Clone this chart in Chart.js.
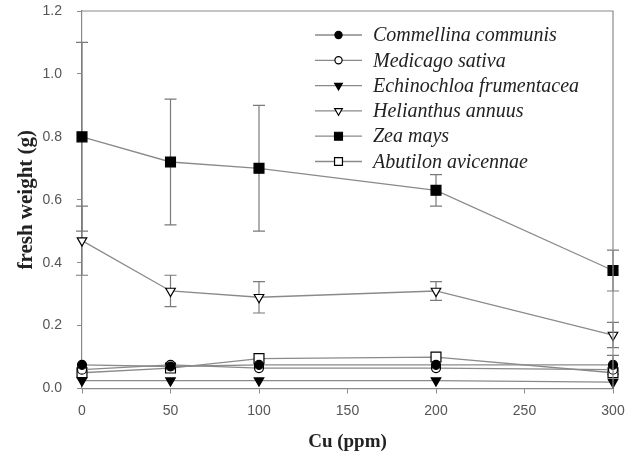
<!DOCTYPE html>
<html>
<head>
<meta charset="utf-8">
<script src="https://cdn.jsdelivr.net/npm/chart.js@4.4.0/dist/chart.umd.min.js"></script>
<style>
  html, body { margin: 0; padding: 0; background: #fff; }
  #wrap { width: 635px; height: 461px; }
</style>
</head>
<body>
<div id="wrap"><canvas id="mychart" width="635" height="461"></canvas></div>
<script>
// Cu dose (ppm) on the x axis
var cu = [0, 50, 100, 200, 300]

// fresh weight (g) per species
var commellina  = [0.075, 0.07, 0.075, 0.075, 0.075]
var medicago    = [0.06, 0.075, 0.065, 0.065, 0.06]
var echinochloa = [0.025, 0.025, 0.025, 0.025, 0.02]
var helianthus  = [0.47, 0.31, 0.29, 0.31, 0.17]
var zea         = [0.80, 0.72, 0.70, 0.63, 0.375]
var abutilon    = [0.05, 0.065, 0.095, 0.10, 0.05]

// error bar half widths (null = none drawn)
var commellinaErr = [null, null, null, null, 0.03]
var helianthusErr = [0.11, 0.05, 0.05, 0.03, 0.04]
var zeaErr        = [0.30, 0.20, 0.20, 0.05, 0.065]

var names = ["Commellina communis", "Medicago sativa", "Echinochloa frumentacea",
             "Helianthus annuus", "Zea mays", "Abutilon avicennae"]

var lineGray = "#8a8a8a"

function pts(arr) {
  return arr.map(function (v, i) { return { x: cu[i], y: v } })
}

function ds(label, values, err, style, filled, radius, rot) {
  return {
    label: label,
    data: pts(values),
    err: err,
    clip: false,
    borderColor: lineGray,
    borderWidth: 1.3,
    pointStyle: style,
    pointRotation: rot || 0,
    pointRadius: radius,
    pointBorderColor: "#000",
    pointBorderWidth: 1.2,
    pointBackgroundColor: filled ? "#000" : "#fff",
    tension: 0
  }
}

var datasets = [
  ds(names[0], commellina, commellinaErr, "circle", true, 4.5),
  ds(names[1], medicago, null, "circle", false, 4.5),
  ds(names[2], echinochloa, null, "triangle", true, 5.5, 180),
  ds(names[3], helianthus, helianthusErr, "triangle", false, 5.5, 180),
  ds(names[4], zea, zeaErr, "rect", true, 7),
  ds(names[5], abutilon, null, "rect", false, 7)
]

var extras = {
  id: "extras",
  beforeDatasetsDraw: function (chart) {
    var ctx = chart.ctx
    var xs = chart.scales.x, ys = chart.scales.y
    ctx.save()
    ctx.strokeStyle = "#7a7a7a"
    ctx.lineWidth = 1.2
    chart.data.datasets.forEach(function (d) {
      if (!d.err) return
      d.data.forEach(function (p, i) {
        var e = d.err[i]
        if (e == null) return
        var px = xs.getPixelForValue(p.x)
        var top = ys.getPixelForValue(p.y + e)
        var bot = ys.getPixelForValue(p.y - e)
        ctx.beginPath()
        ctx.moveTo(px, top); ctx.lineTo(px, bot)
        ctx.moveTo(px - 6, top); ctx.lineTo(px + 6, top)
        ctx.moveTo(px - 6, bot); ctx.lineTo(px + 6, bot)
        ctx.stroke()
      })
    })
    ctx.restore()
  },
  afterDraw: function (chart) {
    var ctx = chart.ctx
    var a = chart.chartArea
    ctx.save()
    // frame top and right
    ctx.strokeStyle = "#8a8a8a"
    ctx.lineWidth = 1.2
    ctx.beginPath()
    ctx.moveTo(a.left, a.top); ctx.lineTo(a.right, a.top); ctx.lineTo(a.right, a.bottom)
    ctx.stroke()

    // legend
    var x0 = 315, x1 = 362, tx = 373, y = 35, step = 25.3
    ctx.font = "italic 20px 'Liberation Serif', 'DejaVu Serif', serif"
    ctx.textBaseline = "middle"
    chart.data.datasets.forEach(function (d) {
      ctx.strokeStyle = lineGray
      ctx.lineWidth = 1.3
      ctx.beginPath(); ctx.moveTo(x0, y); ctx.lineTo(x1, y); ctx.stroke()
      ctx.fillStyle = d.pointBackgroundColor
      ctx.strokeStyle = "#000"
      ctx.lineWidth = 1.2
      Chart.helpers.drawPoint(ctx, {
        pointStyle: d.pointStyle, rotation: d.pointRotation,
        radius: d.pointRadius * 0.8, borderWidth: 1.2
      }, (x0 + x1) / 2, y)
      ctx.fillStyle = "#222"
      ctx.fillText(d.label, tx, y + 1)
      y += step
    })
    ctx.restore()
  }
}

var mychart = document.getElementById("mychart").getContext("2d")
var chart = new Chart(mychart, {
  type: "line",
  data: { datasets: datasets },
  plugins: [extras],
  options: {
    responsive: false,
    animation: false,
    layout: { padding: { left: 0, right: 22, top: 11, bottom: 0 } },
    plugins: { legend: { display: false }, tooltip: { enabled: false } },
    scales: {
      x: {
        type: "linear", min: 0, max: 300,
        afterFit: function (s) { s.height = 72.5; s.paddingLeft = 0; s.paddingRight = 0 },
        border: { color: "#8a8a8a", width: 1.2 },
        grid: { display: true, drawOnChartArea: false, drawTicks: true, tickLength: 5, color: "#8a8a8a" },
        ticks: { stepSize: 50, color: "#555", padding: 9, font: { family: "'Liberation Sans', Arial, sans-serif", size: 14 } },
        title: { display: true, text: "Cu (ppm)", color: "#222", padding: { top: 5, bottom: 8 },
                 font: { family: "'Liberation Serif', serif", size: 19, weight: "bold" } }
      },
      y: {
        min: 0, max: 1.2,
        afterFit: function (s) { s.width = 82; s.paddingTop = 0; s.paddingBottom = 0 },
        border: { color: "#8a8a8a", width: 1.2 },
        grid: { display: true, drawOnChartArea: false, drawTicks: true, tickLength: 5, color: "#8a8a8a" },
        ticks: { stepSize: 0.2, color: "#555", padding: 15,
                 font: { family: "'Liberation Sans', Arial, sans-serif", size: 14 },
                 callback: function (v) { return v.toFixed(1) } },
        title: { display: true, text: "fresh weight (g)", color: "#222", padding: { top: 14, bottom: 4 },
                 font: { family: "'Liberation Serif', serif", size: 21, weight: "bold" } }
      }
    }
  }
})
</script>
</body>
</html>
